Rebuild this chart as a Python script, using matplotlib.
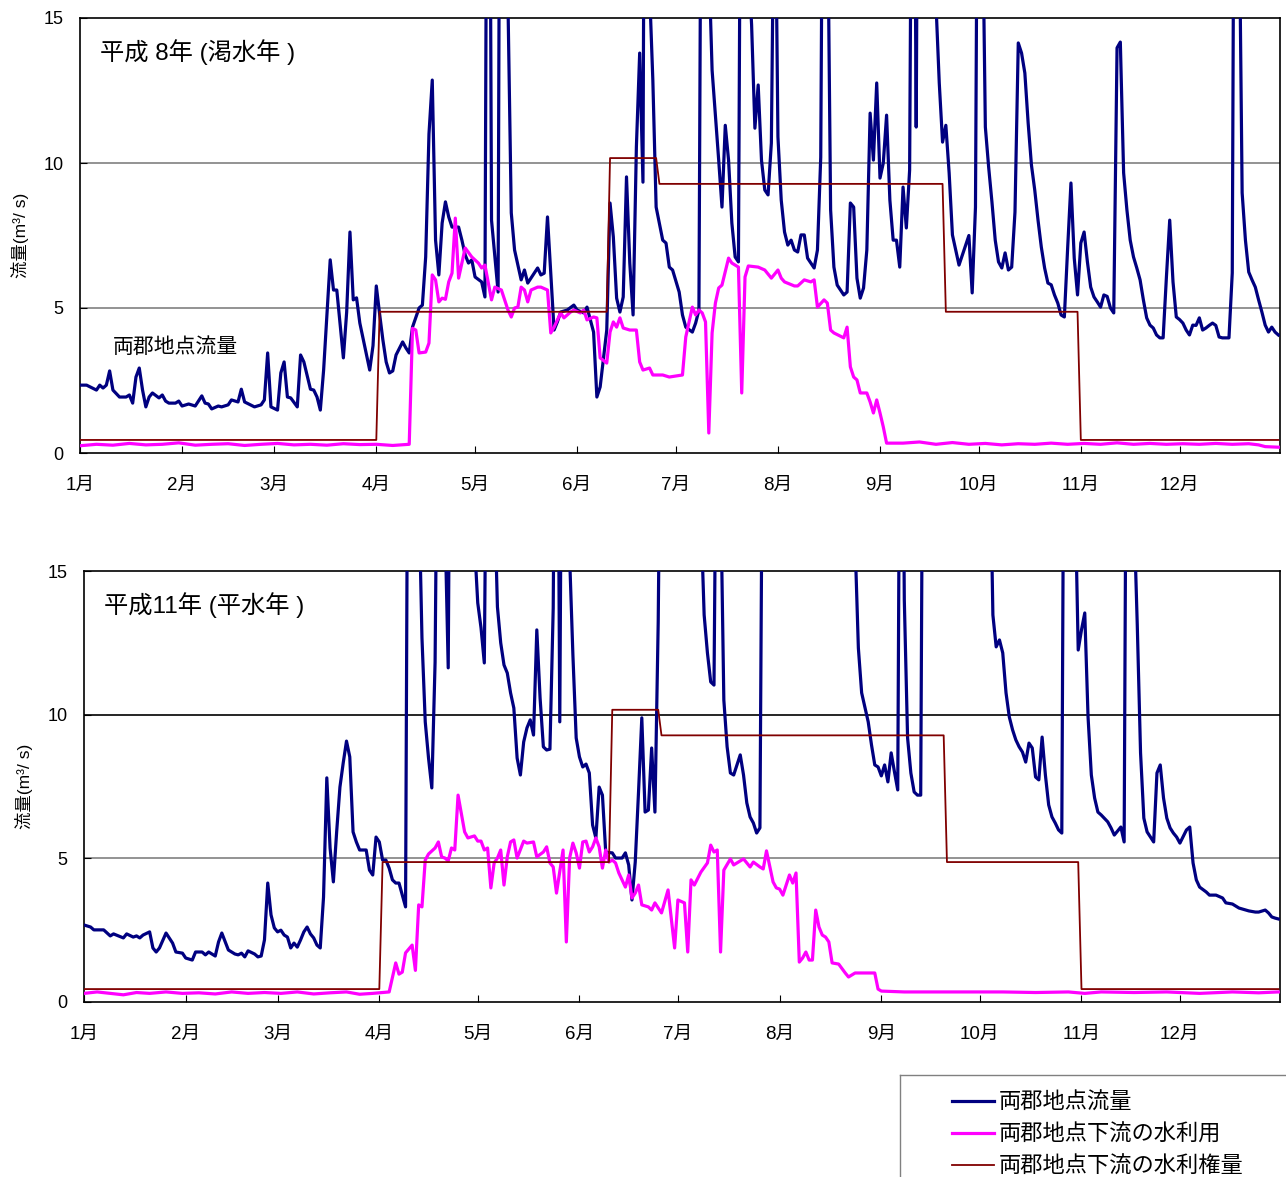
import numpy as np
import matplotlib
matplotlib.use("Agg")
import matplotlib.pyplot as plt
from matplotlib.lines import Line2D

plt.rcParams['font.family'] = ['Liberation Sans', 'Noto Sans CJK JP', 'DejaVu Sans']

# ---- データ (日 = 1月1日からの通日, 値 = m3/s) ----
month_start = [0, 31, 59, 90, 120, 151, 181, 212, 243, 273, 304, 334]
month_label = ["1月", "2月", "3月", "4月", "5月", "6月",
               "7月", "8月", "9月", "10月", "11月", "12月"]

# 平成8年 両郡地点流量
flow_h8 = [
    (0, 2.34), (2, 2.34), (5, 2.17), (6, 2.34), (7, 2.24), (8, 2.34), (9, 2.83), (10, 2.17),
    (12, 1.93), (14, 1.93), (15, 2.0), (16, 1.72), (17, 2.62), (18, 2.93), (19, 2.17), (20, 1.59),
    (21, 1.93), (22, 2.07), (24, 1.9), (25, 2.0), (26, 1.79), (27, 1.72), (29, 1.72), (30, 1.79),
    (31, 1.62), (33, 1.69), (35, 1.62), (37, 1.97), (38, 1.72), (39, 1.69), (40, 1.52), (42, 1.62),
    (43, 1.59), (45, 1.66), (46, 1.83), (48, 1.76), (49, 2.2), (50, 1.76), (53, 1.59), (55, 1.66),
    (56, 1.83), (57, 3.45), (58, 1.59), (60, 1.48), (61, 2.76), (62, 3.14), (63, 1.93), (64, 1.9),
    (66, 1.59), (67, 3.38), (68, 3.14), (70, 2.2), (71, 2.17), (72, 1.93), (73, 1.48), (74, 2.86),
    (76, 6.66), (77, 5.62), (78, 5.62), (80, 3.28), (81, 4.86), (82, 7.62), (83, 5.28), (84, 5.35),
    (85, 4.48), (88, 2.86), (89, 3.7), (90, 5.76), (91, 4.8), (92, 3.9), (93, 3.14), (94, 2.76),
    (95, 2.83), (96, 3.38), (98, 3.83), (99, 3.62), (100, 3.45), (101, 4.34), (103, 5.0), (104, 5.1),
    (105, 6.76), (106, 11.0), (107, 12.86), (108, 7.34), (109, 6.14), (110, 7.93), (111, 8.66),
    (112, 8.14), (113, 7.79), (115, 7.79), (116, 7.34), (117, 6.83), (118, 6.55), (119, 6.66),
    (120, 6.07), (122, 5.9), (123, 5.38), (124, 35), (125, 8.03), (127, 5.55), (128, 40), (129, 35),
    (130, 15.5), (131, 8.28), (132, 7.0), (134, 5.97), (135, 6.31), (136, 5.86), (138, 6.21),
    (139, 6.38), (140, 6.14), (141, 6.2), (142, 8.14), (144, 4.24), (145, 4.52), (146, 4.86),
    (148, 4.93), (150, 5.1), (151, 4.93), (153, 4.83), (154, 5.03), (156, 4.17), (157, 1.93),
    (158, 2.28), (160, 4.24), (161, 8.62), (162, 7.45), (163, 5.34), (164, 4.86), (165, 5.38),
    (166, 9.52), (167, 6.55), (168, 4.76), (169, 10.55), (170, 13.79), (171, 9.34), (172, 40),
    (173, 16), (174, 12.86), (175, 8.48), (177, 7.34), (178, 7.24), (179, 6.41), (180, 6.31),
    (182, 5.55), (183, 4.76), (184, 4.34), (186, 4.17), (187, 4.48), (188, 4.93), (189, 30),
    (190, 35), (191, 17), (192, 13.2), (194, 10.1), (195, 8.48), (196, 11.3), (197, 10.1),
    (198, 7.93), (199, 6.76), (200, 6.59), (201, 30), (202, 25), (203, 17), (204, 14.76),
    (205, 11.2), (206, 12.69), (207, 10.1), (208, 9.07), (209, 8.9), (210, 10.69), (211, 22),
    (212, 10.9), (213, 8.72), (214, 7.62), (215, 7.17), (216, 7.34), (217, 7.0), (218, 6.93),
    (219, 7.52), (220, 7.52), (221, 6.72), (223, 6.38), (224, 7.0), (225, 10.2), (226, 30),
    (227, 20), (228, 8.38), (229, 6.41), (230, 5.79), (232, 5.45), (233, 5.55), (234, 8.62),
    (235, 8.48), (236, 6.03), (237, 5.34), (238, 5.69), (239, 7.0), (240, 11.72), (241, 10.1),
    (242, 12.76), (243, 9.48), (244, 10.0), (245, 11.65), (246, 8.72), (247, 7.34), (248, 7.34),
    (249, 6.41), (250, 9.17), (251, 7.76), (252, 9.76), (253, 30), (254, 11.24), (255, 35),
    (257, 30), (259, 20), (260, 15.5), (261, 12.76), (262, 10.72), (263, 11.3), (264, 9.66),
    (265, 7.52), (266, 7.0), (267, 6.48), (270, 7.5), (271, 5.52), (272, 8.48), (273, 30),
    (274, 20), (275, 11.24), (276, 9.86), (277, 8.66), (278, 7.34), (279, 6.59), (280, 6.38),
    (281, 6.9), (282, 6.31), (283, 6.41), (284, 8.31), (285, 14.14), (286, 13.79), (287, 13.1),
    (288, 11.38), (289, 9.93), (290, 9.07), (291, 8.03), (292, 7.1), (293, 6.38), (294, 5.86),
    (295, 5.8), (296, 5.45), (297, 5.17), (298, 4.76), (299, 4.69), (300, 7.07), (301, 9.31),
    (302, 6.72), (303, 5.45), (304, 7.24), (305, 7.62), (306, 6.59), (307, 5.72), (308, 5.38),
    (309, 5.21), (310, 5.03), (311, 5.45), (312, 5.4), (313, 5.0), (314, 4.83), (315, 13.97),
    (316, 14.17), (317, 9.66), (318, 8.38), (319, 7.34), (320, 6.76), (321, 6.38), (322, 5.97),
    (323, 5.28), (324, 4.66), (325, 4.41), (326, 4.31), (327, 4.07), (328, 3.97), (329, 3.97),
    (330, 6.07), (331, 8.03), (332, 5.9), (333, 4.69), (334, 4.6), (335, 4.48), (336, 4.24),
    (337, 4.07), (338, 4.41), (339, 4.4), (340, 4.66), (341, 4.24), (342, 4.31), (343, 4.4),
    (344, 4.48), (345, 4.4), (346, 4.0), (347, 3.97), (349, 3.97), (350, 6.21), (351, 35),
    (352, 20), (353, 8.97), (354, 7.34), (355, 6.24), (356, 5.97), (357, 5.72), (358, 5.28),
    (359, 4.86), (360, 4.41), (361, 4.17), (362, 4.34), (363, 4.17), (364, 4.07),
]

# 平成8年 両郡地点下流の水利用
use_h8 = [
    (0, 0.25), (5, 0.3), (10, 0.27), (15, 0.33), (20, 0.28), (25, 0.3), (30, 0.35), (35, 0.27),
    (40, 0.3), (45, 0.32), (50, 0.26), (55, 0.3), (60, 0.33), (65, 0.28), (70, 0.3), (75, 0.27),
    (80, 0.32), (85, 0.29), (90, 0.3), (95, 0.26), (100, 0.3), (101, 4.3), (102, 4.24), (103, 3.45),
    (105, 3.48), (106, 3.79), (107, 6.14), (108, 5.97), (109, 5.21), (110, 5.34), (111, 5.3),
    (112, 5.9), (113, 6.2), (114, 8.1), (115, 6.03), (117, 7.07), (119, 6.76), (121, 6.55),
    (122, 6.38), (123, 6.48), (125, 5.28), (126, 5.72), (128, 5.62), (129, 5.28), (130, 4.93),
    (131, 4.69), (132, 5.0), (133, 5.03), (134, 5.72), (135, 5.62), (136, 5.21), (137, 5.62),
    (139, 5.72), (140, 5.72), (142, 5.62), (143, 4.14), (144, 4.34), (146, 4.83), (147, 4.66),
    (149, 4.86), (150, 4.93), (152, 4.83), (153, 4.93), (154, 4.59), (156, 4.69), (157, 4.66),
    (158, 3.28), (160, 3.1), (161, 4.17), (162, 4.52), (163, 4.34), (164, 4.66), (165, 4.31),
    (167, 4.24), (169, 4.24), (170, 3.14), (171, 2.86), (173, 2.93), (174, 2.69), (177, 2.69),
    (179, 2.62), (183, 2.69), (184, 4.0), (186, 5.03), (187, 4.76), (188, 4.93), (189, 4.83),
    (190, 4.52), (191, 0.69), (192, 4.14), (193, 5.17), (194, 5.69), (195, 5.79), (197, 6.72),
    (198, 6.55), (200, 6.41), (201, 2.07), (202, 6.07), (203, 6.45), (206, 6.41), (208, 6.31),
    (210, 6.03), (212, 6.31), (213, 6.03), (214, 5.9), (217, 5.76), (218, 5.76), (220, 5.97),
    (222, 5.9), (223, 5.97), (224, 5.03), (226, 5.28), (227, 5.17), (228, 4.24), (229, 4.14),
    (232, 3.97), (233, 4.34), (234, 2.97), (235, 2.62), (236, 2.52), (237, 2.07), (239, 2.07),
    (240, 1.76), (241, 1.38), (242, 1.83), (243, 1.38), (244, 0.9), (245, 0.34), (250, 0.34),
    (255, 0.38), (260, 0.3), (265, 0.36), (270, 0.3), (275, 0.33), (280, 0.28), (285, 0.32),
    (290, 0.3), (295, 0.34), (300, 0.3), (305, 0.33), (310, 0.3), (315, 0.35), (320, 0.3),
    (325, 0.33), (330, 0.3), (335, 0.32), (340, 0.3), (345, 0.33), (350, 0.3), (355, 0.32),
    (358, 0.28), (360, 0.22), (364, 0.2),
]

# 平成11年 両郡地点流量
flow_h11 = [
    (0, 2.68), (2, 2.61), (3, 2.51), (6, 2.51), (8, 2.3), (9, 2.37), (12, 2.23), (13, 2.37),
    (15, 2.26), (16, 2.3), (17, 2.23), (18, 2.33), (20, 2.44), (21, 1.88), (22, 1.74), (23, 1.88),
    (25, 2.4), (27, 2.05), (28, 1.74), (30, 1.7), (31, 1.53), (33, 1.46), (34, 1.74), (36, 1.74),
    (37, 1.64), (38, 1.74), (40, 1.6), (41, 2.09), (42, 2.4), (44, 1.81), (46, 1.67), (47, 1.64),
    (48, 1.7), (49, 1.57), (50, 1.78), (52, 1.67), (53, 1.57), (54, 1.6), (55, 2.16), (56, 4.14),
    (57, 3.03), (58, 2.58), (59, 2.44), (60, 2.5), (61, 2.33), (62, 2.26), (63, 1.88), (64, 2.05),
    (65, 1.91), (66, 2.16), (67, 2.44), (68, 2.61), (69, 2.37), (70, 2.23), (71, 1.98), (72, 1.88),
    (73, 3.65), (74, 7.8), (75, 5.36), (76, 4.18), (77, 5.92), (78, 7.48), (79, 8.32), (80, 9.08),
    (81, 8.53), (82, 5.92), (83, 5.57), (84, 5.29), (86, 5.29), (87, 4.59), (88, 4.42), (89, 5.74),
    (90, 5.57), (91, 4.94), (92, 4.94), (93, 4.66), (94, 4.25), (95, 4.14), (96, 4.14), (97, 3.72),
    (98, 3.31), (99, 30), (100, 40), (101, 30), (102, 18), (103, 12.67), (104, 9.75), (105, 8.49),
    (106, 7.45), (107, 11.83), (108, 25), (109, 22), (111, 11.63), (112, 30), (114, 40), (116, 35),
    (118, 25), (119, 16), (120, 13.89), (121, 13.02), (122, 11.8), (123, 25), (124, 35), (125, 18),
    (126, 13.75), (127, 12.5), (128, 11.73), (129, 11.45), (130, 10.76), (131, 10.23), (132, 8.49),
    (133, 7.9), (134, 9.05), (135, 9.54), (136, 9.82), (137, 9.29), (138, 12.95), (139, 10.58),
    (140, 8.88), (141, 8.77), (142, 8.8), (143, 13.71), (144, 30), (145, 9.75), (146, 30),
    (147, 25), (148, 15.5), (149, 12.08), (150, 9.19), (151, 8.53), (152, 8.18), (153, 8.28),
    (154, 7.97), (155, 6.16), (156, 5.71), (157, 7.48), (158, 7.2), (159, 5.22), (160, 5.2),
    (161, 5.19), (162, 5.01), (164, 5.01), (165, 5.19), (166, 4.77), (167, 3.55), (168, 4.87),
    (169, 7.31), (170, 9.89), (171, 6.61), (172, 6.68), (173, 8.84), (174, 6.61), (175, 13.23),
    (176, 25), (178, 40), (180, 35), (182, 30), (184, 35), (186, 25), (188, 17), (189, 13.47),
    (190, 12.15), (191, 11.14), (192, 11.03), (193, 25), (194, 18), (195, 10.51), (196, 8.88),
    (197, 7.97), (198, 7.9), (200, 8.6), (201, 7.9), (202, 6.93), (203, 6.44), (204, 6.23),
    (205, 5.88), (206, 6.06), (207, 25), (210, 40), (215, 35), (220, 45), (225, 30), (230, 35),
    (233, 25), (235, 16), (236, 12.32), (237, 10.76), (239, 9.75), (240, 8.95), (241, 8.25),
    (242, 8.18), (243, 7.87), (244, 8.25), (245, 7.66), (246, 8.67), (247, 8.01), (248, 7.38),
    (249, 30), (250, 14), (251, 9.19), (252, 7.97), (253, 7.31), (254, 7.2), (255, 7.2), (256, 30),
    (260, 40), (265, 35), (270, 30), (274, 25), (276, 20), (277, 13.47), (278, 12.36), (279, 12.6),
    (280, 12.15), (281, 10.76), (282, 9.92), (283, 9.47), (284, 9.12), (285, 8.88), (286, 8.7),
    (287, 8.35), (288, 9.01), (289, 8.84), (290, 7.83), (291, 7.73), (292, 9.22), (293, 7.9),
    (294, 6.86), (295, 6.44), (296, 6.23), (297, 5.99), (298, 5.88), (299, 30), (300, 40),
    (301, 30), (302, 18), (303, 12.25), (304, 12.95), (305, 13.54), (306, 9.92), (307, 7.9),
    (308, 7.1), (309, 6.61), (310, 6.51), (312, 6.27), (313, 6.06), (314, 5.81), (316, 6.09),
    (317, 5.57), (318, 30), (319, 35), (320, 17), (321, 13.12), (322, 8.67), (323, 6.4), (324, 5.92),
    (326, 5.57), (327, 7.97), (328, 8.25), (329, 7.1), (330, 6.4), (331, 6.06), (332, 5.88),
    (333, 5.74), (334, 5.53), (336, 5.99), (337, 6.09), (338, 4.84), (339, 4.25), (340, 4.0),
    (342, 3.83), (343, 3.72), (345, 3.72), (347, 3.62), (348, 3.45), (350, 3.41), (351, 3.34),
    (352, 3.27), (355, 3.17), (357, 3.13), (358, 3.13), (360, 3.2), (361, 3.1), (362, 2.96),
    (363, 2.92), (364, 2.89),
]

# 平成11年 両郡地点下流の水利用
use_h11 = [
    (0, 0.3), (4, 0.35), (8, 0.3), (12, 0.25), (16, 0.33), (20, 0.3), (25, 0.35), (30, 0.3),
    (35, 0.32), (40, 0.28), (45, 0.35), (50, 0.3), (55, 0.33), (60, 0.3), (65, 0.35), (70, 0.28),
    (75, 0.32), (80, 0.35), (84, 0.27), (88, 0.3), (93, 0.35), (95, 1.36), (96, 0.97), (97, 1.04),
    (98, 1.71), (100, 1.98), (101, 1.1), (102, 3.38), (103, 3.31), (104, 4.94), (105, 5.15),
    (107, 5.36), (108, 5.57), (109, 5.05), (110, 5.01), (111, 4.91), (112, 5.36), (113, 5.29),
    (114, 7.2), (116, 5.92), (117, 5.71), (119, 5.78), (120, 5.6), (121, 5.6), (122, 5.29),
    (123, 5.36), (124, 3.97), (125, 4.84), (126, 5.01), (127, 5.29), (128, 4.07), (129, 5.05),
    (130, 5.57), (131, 5.64), (132, 5.01), (134, 5.6), (135, 5.53), (137, 5.57), (138, 5.05),
    (140, 5.22), (141, 5.4), (142, 4.84), (143, 4.7), (144, 3.79), (146, 5.29), (147, 2.09),
    (148, 5.01), (149, 5.53), (150, 5.19), (151, 4.66), (152, 5.57), (153, 5.6), (154, 5.22),
    (155, 5.4), (156, 5.71), (157, 5.4), (158, 4.66), (159, 5.29), (160, 4.87), (161, 4.94),
    (162, 4.84), (163, 4.49), (165, 4.0), (166, 4.42), (167, 3.62), (168, 3.79), (169, 4.07),
    (170, 3.38), (172, 3.31), (173, 3.2), (174, 3.45), (176, 3.1), (178, 3.9), (180, 1.88),
    (181, 3.55), (183, 3.45), (184, 1.74), (185, 4.25), (186, 4.07), (188, 4.52), (190, 4.84),
    (191, 5.46), (192, 5.22), (193, 5.29), (194, 1.74), (195, 4.59), (197, 4.98), (198, 4.77),
    (201, 4.98), (203, 4.7), (204, 4.87), (206, 4.7), (207, 4.63), (208, 5.26), (210, 4.18),
    (211, 3.97), (212, 3.93), (213, 3.72), (215, 4.42), (216, 4.14), (217, 4.49), (218, 1.39),
    (219, 1.53), (220, 1.74), (221, 1.46), (222, 1.46), (223, 3.2), (224, 2.61), (225, 2.33),
    (226, 2.26), (227, 2.09), (228, 1.36), (230, 1.32), (232, 1.01), (233, 0.87), (235, 1.01),
    (241, 1.01), (242, 0.45), (243, 0.38), (250, 0.35), (260, 0.35), (270, 0.35), (280, 0.35),
    (290, 0.33), (300, 0.35), (305, 0.3), (310, 0.35), (320, 0.33), (330, 0.35), (340, 0.3),
    (350, 0.35), (358, 0.32), (364, 0.35),
]

# 両郡地点下流の水利権量 (両年共通)
right_day = [0, 90, 91, 160, 161, 175, 176, 262, 263, 303, 304, 364]
right_val = [0.45, 0.45, 4.87, 4.87, 10.17, 10.17, 9.28, 9.28, 4.87, 4.87, 0.45, 0.45]

panels = [
    ("平成 8年 (渇水年 )", flow_h8, use_h8, ["#808080", "#808080"]),
    ("平成11年 (平水年 )", flow_h11, use_h11, ["#808080", "#000000"]),
]
positions = [[80 / 1286, 1 - 453 / 1177, 1200 / 1286, 435 / 1177],
             [84 / 1286, 1 - 1002 / 1177, 1196 / 1286, 431 / 1177]]

C_FLOW, C_USE, C_RIGHT = "#000080", "#FF00FF", "#800000"

fig = plt.figure(figsize=(12.86, 11.77), dpi=100)

for (title, flow, use, gcols), pos in zip(panels, positions):
    ax = fig.add_axes(pos)
    fd, fv = zip(*flow)
    ud, uv = zip(*use)
    for yv, gc in zip([5, 10], gcols):
        ax.axhline(yv, color=gc, lw=1.2, zorder=1)
    ax.plot(fd, fv, color=C_FLOW, lw=2.3, zorder=3)
    ax.plot(ud, uv, color=C_USE, lw=2.3, zorder=4)
    ax.plot(right_day, right_val, color=C_RIGHT, lw=1.3, zorder=5)
    ax.set_xlim(0, 364.5)
    ax.set_ylim(0, 15)
    ax.set_xticks(month_start)
    ax.set_xticklabels(month_label, fontsize=13.5)
    ax.set_yticks([0, 5, 10, 15])
    ax.set_yticklabels(["0", "5", "10", "15"], fontsize=13)
    ax.tick_params(axis="x", direction="in", length=5, pad=17)
    ax.tick_params(axis="y", direction="in", length=5, pad=12)
    for s in ax.spines.values():
        s.set_linewidth(1.2)
        s.set_color("black")
    ax.set_ylabel("流量(m³/ s)", fontsize=12.5, labelpad=10)
    ax.text(0.017, 0.922, title, transform=ax.transAxes, fontsize=17.5,
            ha="left", va="center")
    if flow is flow_h8:
        ax.text(29, 3.65, "両郡地点流量", fontsize=15, ha="center", va="center")

# 凡例
legax = fig.add_axes([900 / 1286, -0.01, 0.32, 1 - 1075 / 1177 + 0.01])
legax.set_xticks([])
legax.set_yticks([])
for s in legax.spines.values():
    s.set_color("#808080")
    s.set_linewidth(1.0)
handles = [Line2D([], [], color=C_FLOW, lw=2.3),
           Line2D([], [], color=C_USE, lw=2.3),
           Line2D([], [], color=C_RIGHT, lw=1.3)]
labels = ["両郡地点流量", "両郡地点下流の水利用", "両郡地点下流の水利権量"]
legax.legend(handles, labels, loc="center left", bbox_to_anchor=(52 / 411, 0.47),
             frameon=False, fontsize=16, handlelength=1.9, handletextpad=0.2,
             labelspacing=0.5, borderpad=0, borderaxespad=0)

fig.savefig("out.png", dpi=100)
